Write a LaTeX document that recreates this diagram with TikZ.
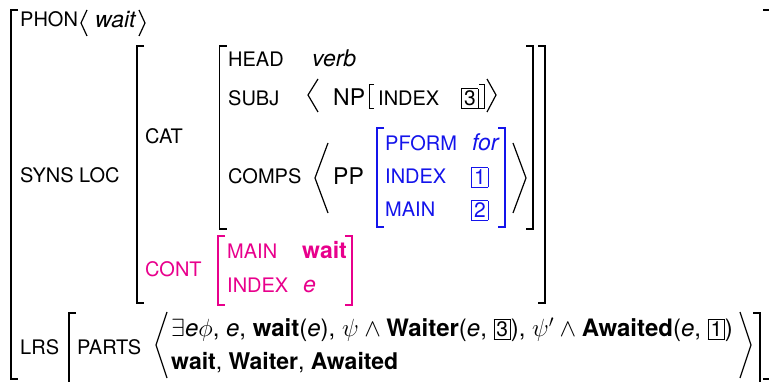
\documentclass[tikz,border=0pt]{standalone}
\usepackage{fontspec}
\setmainfont{TeX Gyre Heros}
\definecolor{avmblue}{RGB}{20,20,235}
\definecolor{avmpink}{RGB}{232,0,140}
\newcommand{\bx}[1]{{\setlength{\fboxsep}{2pt}\setlength{\fboxrule}{0.8pt}\fbox{\fontsize{21}{21}\selectfont #1}}}
\newcommand{\avmL}[4][]{\draw[brk,#1] (#2+7,#3) -- (#2,#3) -- (#2,#4) -- (#2+7,#4);}
\newcommand{\avmR}[4][]{\draw[brk,#1] (#2-7,#3) -- (#2,#3) -- (#2,#4) -- (#2-7,#4);}
\newcommand{\wdg}{$\mskip\medmuskip\wedge\mskip\medmuskip$}
\begin{document}
\begin{tikzpicture}[x=1pt,y=-1pt,
  lab/.style={anchor=base west,inner sep=0pt,font=\fontsize{20}{24}\selectfont},
  val/.style={anchor=base west,inner sep=0pt,font=\fontsize{23}{27}\selectfont},
  brk/.style={line width=1.3pt},
  ang/.style={line width=1.2pt}]
\useasboundingbox (0,0) rectangle (769,382);
\clip (0,0) rectangle (769,382);
% outer bracket
\avmL{11}{10}{379}
\avmR{770}{10}{379}
% PHON
\node[lab] (phon) at (20,27) {PHON};
\draw[ang] (87,10) -- (81,23) -- (87,36);
\node[val] (phonv) at (95,28) {\textit{wait}};
\draw[ang] (139,10) -- (145,23) -- (139,36);
% SYNS LOC
\node[lab] (syns) at (20,183) {SYNS LOC};
\avmL{137}{46}{303}
\avmR{545}{46}{303}
\node[lab] (cat) at (145,144) {CAT};
\avmL{219.5}{46}{229}
\avmR{533}{46}{229}
\node[lab] (head) at (228,67) {HEAD};
\node[val] (headv) at (312,67) {\textit{verb}};
\node[lab] (subj) at (228,106) {SUBJ};
\draw[ang] (318,79) -- (308,95) -- (318,112);
\node[val] (np) at (333,106) {NP};
\draw[line width=0.9pt] (374,84) -- (369,84) -- (369,108) -- (374,108);
\node[lab] (npidx) at (378,106) {INDEX};
\node[val] (three) at (461,106) {\bx{3}};
\draw[line width=0.9pt] (479,84) -- (484,84) -- (484,108) -- (479,108);
\draw[ang] (487,79) -- (496,95) -- (487,112);
\node[lab] (comps) at (228,184) {COMPS};
\draw[ang] (328,143) -- (315,178) -- (328,213);
\node[val] (pp) at (333,185) {PP};
\avmL[avmblue]{377}{128}{227}
\avmR[avmblue]{505}{128}{227}
\node[lab,text=avmblue] (pform) at (385,151) {PFORM};
\node[val,text=avmblue] (pformv) at (472,151) {\textit{for}};
\node[lab,text=avmblue] (cidx) at (385,184) {INDEX};
\node[val,text=avmblue] (one) at (471,185) {\bx{1}};
\node[lab,text=avmblue] (cmain) at (385,217) {MAIN};
\node[val,text=avmblue] (two) at (471,218) {\bx{2}};
\draw[ang] (513,143) -- (526,178) -- (513,213);
% CONT
\node[lab,text=avmpink] (cont) at (145,277) {CONT};
\avmL[avmpink]{218}{236}{305}
\avmR[avmpink]{352}{236}{305}
\node[lab,text=avmpink] (main) at (227,259) {MAIN};
\node[val,text=avmpink] (mainv) at (302,259) {\textbf{wait}};
\node[lab,text=avmpink] (idx) at (227,293) {INDEX};
\node[val,text=avmpink] (idxv) at (303,293) {\textit{e}};
% LRS
\node[lab] (lrs) at (20,354) {LRS};
\avmL{69}{313}{392}
\avmR{760}{313}{392}
\node[lab] (parts) at (77,354) {PARTS};
\draw[ang] (167,312) -- (156,345) -- (167,378);
\node[val,font=\fontsize{24}{28}\selectfont] (l1) at (171,337) {$\exists$\textit{e}$\phi$, \textit{e}, \textbf{wait}(\textit{e}), $\psi$\wdg\textbf{Waiter}(\textit{e}, \bx{3}), $\psi'$\wdg\textbf{Awaited}(\textit{e}, \bx{1})};
\node[val] (l2) at (171,370) {\textbf{wait}, \textbf{Waiter}, \textbf{Awaited}};
\draw[ang] (740,312) -- (751,345) -- (740,378);
\end{tikzpicture}
\end{document}
